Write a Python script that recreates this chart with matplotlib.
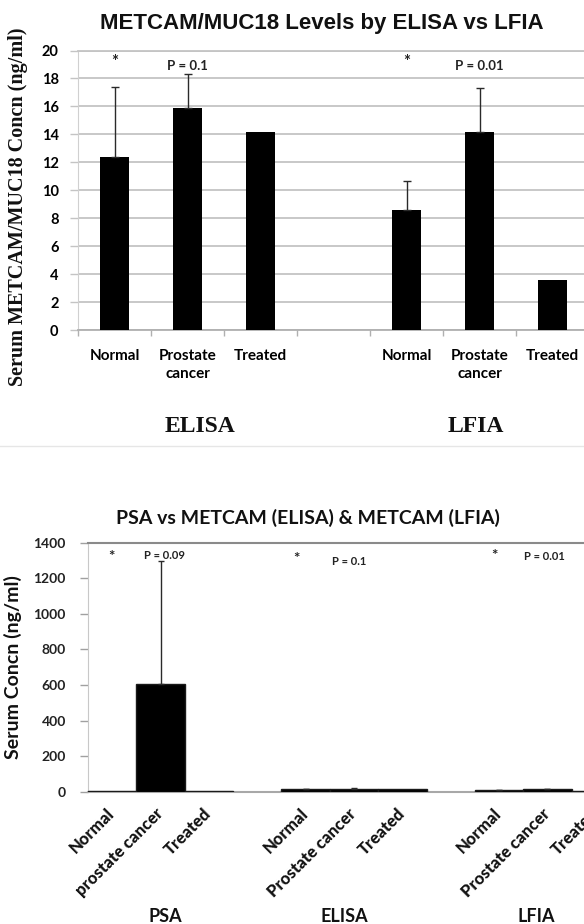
import numpy as np
import matplotlib
matplotlib.use("Agg")
import matplotlib.pyplot as plt
from matplotlib.lines import Line2D
import matplotlib.transforms as mtransforms

# ---- data -------------------------------------------------------------
groups_top = ["ELISA", "LFIA"]
cats_top = ["Normal", "Prostate\ncancer", "Treated"]
elisa_mean = [12.4, 15.9, 14.2]
elisa_upper = [17.4, 18.3, np.nan]
lfia_mean = [8.6, 14.2, 3.6]
lfia_upper = [10.7, 17.3, np.nan]
pvals_top = ["P = 0.1", "P = 0.01"]
yticks_top = list(range(0, 21, 2))

groups_bot = ["PSA", "ELISA", "LFIA"]
cats_psa = ["Normal", "prostate cancer", "Treated"]
cats_metcam = ["Normal", "Prostate cancer", "Treated"]
psa_mean = [2.0, 608.0, 1.5]
psa_upper = [np.nan, 1298.0, np.nan]
pvals_bot = ["P = 0.09", "P = 0.1", "P = 0.01"]
yticks_bot = list(range(0, 1401, 200))

W, H = 584, 924
fig = plt.figure(figsize=(W / 100, H / 100), dpi=100)
fig.patch.set_facecolor("white")

SANS = ["Lato", "DejaVu Sans"]
SERIF = ["Liberation Serif", "DejaVu Serif"]
GRID = "#c4c4c4"


def px_box(left, top, right, bottom):
    return [left / W, 1 - bottom / H, (right - left) / W, (bottom - top) / H]


def draw_errors(ax, xs, means, uppers, capsize):
    for x, m, u in zip(xs, means, uppers):
        if np.isnan(u):
            continue
        ax.errorbar([x], [m], yerr=[[0], [u - m]], fmt="none", ecolor="#2a2a2a",
                    elinewidth=1.0, capsize=capsize, capthick=1.0, zorder=4)


# ---- upper panel: METCAM/MUC18 by ELISA vs LFIA -----------------------
ax1 = fig.add_axes(px_box(78, 50.5, 589, 330.5))
x_elisa = np.array([0, 1, 2])
x_lfia = np.array([4, 5, 6])
ax1.bar(x_elisa, elisa_mean, width=0.4, color="black", zorder=3)
ax1.bar(x_lfia, lfia_mean, width=0.4, color="black", zorder=3)
draw_errors(ax1, x_elisa, elisa_mean, elisa_upper, 3)
draw_errors(ax1, x_lfia, lfia_mean, lfia_upper, 3)

ax1.set_xlim(-0.5, 6.5)
ax1.set_ylim(0, 20)
ax1.set_yticks(yticks_top)
ax1.set_yticklabels([str(v) for v in yticks_top], fontfamily=SANS,
                    fontweight="bold", fontsize=10.5)
ax1.yaxis.grid(True, color=GRID, linewidth=1.3, zorder=0)
ax1.set_axisbelow(True)
ax1.tick_params(axis="y", length=6, width=1, color=GRID, pad=8)

ax1.set_xticks(np.concatenate([x_elisa, x_lfia]))
ax1.set_xticklabels(cats_top + cats_top, fontfamily=SANS, fontweight="bold",
                    fontsize=11, linespacing=1.4)
ax1.tick_params(axis="x", which="major", length=0, pad=13)
ax1.set_xticks(np.arange(-0.5, 7.0, 1.0), minor=True)
ax1.tick_params(axis="x", which="minor", length=4, width=1, color="#b0b0b0")

ax1.spines["right"].set_visible(False)
ax1.spines["top"].set_color(GRID)
ax1.spines["top"].set_linewidth(1.3)
ax1.spines["left"].set_color("#d0d0d0")
ax1.spines["bottom"].set_color("#b0b0b0")
ax1.spines["bottom"].set_linewidth(1.3)

for grp_x, ptxt in zip([x_elisa, x_lfia], pvals_top):
    ax1.text(grp_x[0], 19.2, "*", ha="center", va="center", fontsize=12,
             fontweight="bold", fontfamily=SANS, color="#222")
    ax1.text(grp_x[1], 18.9, ptxt, ha="center", va="center", fontsize=9.5,
             fontweight="bold", fontfamily=SANS, color="#222")

bt1 = mtransforms.blended_transform_factory(ax1.transData, fig.transFigure)
for gx, name in zip([1.17, 4.95], groups_top):
    ax1.text(gx, 1 - 426 / H, name, transform=bt1, ha="center", va="center",
             fontsize=17, fontweight="bold", fontfamily=SERIF, color="#111")

fig.text(322 / W, 1 - 24 / H, "METCAM/MUC18 Levels by ELISA vs LFIA",
         ha="center", va="center", fontsize=16, fontweight="bold",
         fontfamily=["Liberation Sans", "DejaVu Sans"], color="#111")
fig.text(18 / W, 1 - 207 / H, "Serum METCAM/MUC18 Concn (ng/ml)",
         rotation=90, ha="center", va="center", fontsize=14.5,
         fontweight="bold", fontfamily=SERIF, color="#111")

# faint border line between the two panels
fig.add_artist(Line2D([0, 1], [1 - 446 / H, 1 - 446 / H], transform=fig.transFigure,
                      color="#e6e6e6", linewidth=1))

# ---- lower panel: PSA vs METCAM ---------------------------------------
ax2 = fig.add_axes(px_box(88, 542.7, 620, 791.7))
x_psa = np.array([0, 1, 2])
x_el = np.array([4, 5, 6])
x_lf = np.array([8, 9, 10])
for xs, means in [(x_psa, psa_mean), (x_el, elisa_mean), (x_lf, lfia_mean)]:
    ax2.bar(xs, means, width=1.0, color="black", edgecolor="#1a1a1a",
            linewidth=1.0, zorder=3)
draw_errors(ax2, x_psa, psa_mean, psa_upper, 2)
draw_errors(ax2, x_el, elisa_mean, elisa_upper, 2)
draw_errors(ax2, x_lf, lfia_mean, lfia_upper, 2)

ax2.set_xlim(-0.5, 10.5)
ax2.set_ylim(0, 1400)
ax2.set_yticks(yticks_bot)
ax2.set_yticklabels([str(v) for v in yticks_bot], fontfamily=SANS,
                    fontweight="bold", fontsize=10, color="#222")
ax2.tick_params(axis="y", length=6, width=1, color="#a0a0a0", pad=10)

ax2.set_xticks(np.concatenate([x_psa, x_el, x_lf]))
ax2.set_xticklabels(cats_psa + cats_metcam + cats_metcam, fontfamily=SANS,
                    fontweight="black", fontsize=12, rotation=45, ha="right",
                    va="center", rotation_mode="anchor", color="#111")
ax2.tick_params(axis="x", length=0, pad=14)

ax2.spines["right"].set_visible(False)
ax2.spines["top"].set_color("#8a8a8a")
ax2.spines["top"].set_linewidth(1.5)
ax2.spines["left"].set_color("#c8c8c8")
ax2.spines["bottom"].set_color("#a8a8a8")
ax2.spines["bottom"].set_linewidth(1.5)

star_y = [1321, 1308, 1325]
star_dx = [-0.02, -0.2, -0.1]
p_y = [1330, 1293, 1325]
p_dx = [0.08, -0.1, -0.06]
for i, xs in enumerate([x_psa, x_el, x_lf]):
    ax2.text(xs[0] + star_dx[i], star_y[i], "*", ha="center", va="center",
             fontsize=11, fontweight="bold", fontfamily=SANS, color="#222")
    ax2.text(xs[1] + p_dx[i], p_y[i], pvals_bot[i], ha="center", va="center",
             fontsize=8, fontweight="bold", fontfamily=SANS, color="#222")

bt2 = mtransforms.blended_transform_factory(ax2.transData, fig.transFigure)
for gx, name in zip([1.1, 4.8, 8.77], groups_bot):
    ax2.text(gx, 1 - 916 / H, name, transform=bt2, ha="center", va="center",
             fontsize=13, fontweight="bold", fontfamily=SANS, color="#111")

fig.text(308 / W, 1 - 518 / H, "PSA vs METCAM (ELISA) & METCAM (LFIA)",
         ha="center", va="center", fontsize=14, fontweight="bold",
         fontfamily=SANS, color="#111")
fig.text(13 / W, 1 - 667 / H, "Serum Concn (ng/ml)", rotation=90,
         ha="center", va="center", fontsize=14, fontweight="bold",
         fontfamily=SANS, color="#111")

fig.savefig("out.png", dpi=100, facecolor="white")
